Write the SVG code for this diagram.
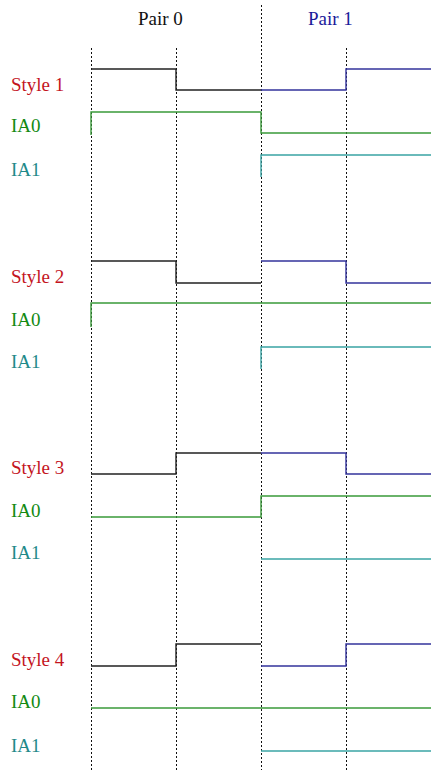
<svg xmlns="http://www.w3.org/2000/svg" width="431" height="770" viewBox="0 0 431 770">
<style>
text{font-family:"Liberation Serif","Times New Roman",serif;font-size:19px}
.hdr0{fill:#111}
.hdr1{fill:#1a1a9a}
.sty{fill:#c4141e}
.ia0{fill:#138a13}
.ia1{fill:#1f8a8a}
.grid{stroke:#111;stroke-width:1;stroke-dasharray:2,2;fill:none}
.blk{stroke:#222;stroke-width:1.4;fill:none}
.blu{stroke:#33339c;stroke-width:1.4;fill:none}
.grn{stroke:#3a9a3a;stroke-width:1.4;fill:none}
.tea{stroke:#3aa4a4;stroke-width:1.4;fill:none}
</style>
<rect width="431" height="770" fill="#fff"/>
<g id="grid">
<line class="grid" x1="91.5" y1="48" x2="91.5" y2="770"/>
<line class="grid" x1="176.5" y1="48" x2="176.5" y2="770"/>
<line class="grid" x1="261.5" y1="5" x2="261.5" y2="770"/>
<line class="grid" x1="346.5" y1="48" x2="346.5" y2="770"/>
</g>
<g id="headers">
<text class="hdr0" x="138" y="25">Pair 0</text>
<text class="hdr1" x="308" y="25">Pair 1</text>
</g>
<g id="style1">
<text class="sty" x="11" y="91">Style 1</text>
<text class="ia0" x="11" y="132">IA0</text>
<text class="ia1" x="11" y="176">IA1</text>
<polyline class="blk" points="91,69 176,69 176,90 261,90"/>
<polyline class="blu" points="261,90 346,90 346,69 431,69"/>
<polyline class="grn" points="91,135 91,112 261,112 261,133 431,133"/>
<polyline class="tea" points="261,177 261,155 431,155"/>
</g>
<g id="style2">
<text class="sty" x="11" y="283">Style 2</text>
<text class="ia0" x="11" y="326">IA0</text>
<text class="ia1" x="11" y="368">IA1</text>
<polyline class="blk" points="91,261 176,261 176,283 261,283"/>
<polyline class="blu" points="261,261 346,261 346,283 431,283"/>
<polyline class="grn" points="91,327 91,303 431,303"/>
<polyline class="tea" points="261,369 261,347 431,347"/>
</g>
<g id="style3">
<text class="sty" x="11" y="474">Style 3</text>
<text class="ia0" x="11" y="517">IA0</text>
<text class="ia1" x="11" y="559">IA1</text>
<polyline class="blk" points="91,474 176,474 176,453 261,453"/>
<polyline class="blu" points="261,453 346,453 346,474 431,474"/>
<polyline class="grn" points="91,517 261,517 261,496 431,496"/>
<polyline class="tea" points="261,559 431,559"/>
</g>
<g id="style4">
<text class="sty" x="11" y="666">Style 4</text>
<text class="ia0" x="11" y="708">IA0</text>
<text class="ia1" x="11" y="752">IA1</text>
<polyline class="blk" points="91,666 176,666 176,644 261,644"/>
<polyline class="blu" points="261,666 346,666 346,644 431,644"/>
<polyline class="grn" points="91,708 431,708"/>
<polyline class="tea" points="261,751 431,751"/>
</g>
</svg>
